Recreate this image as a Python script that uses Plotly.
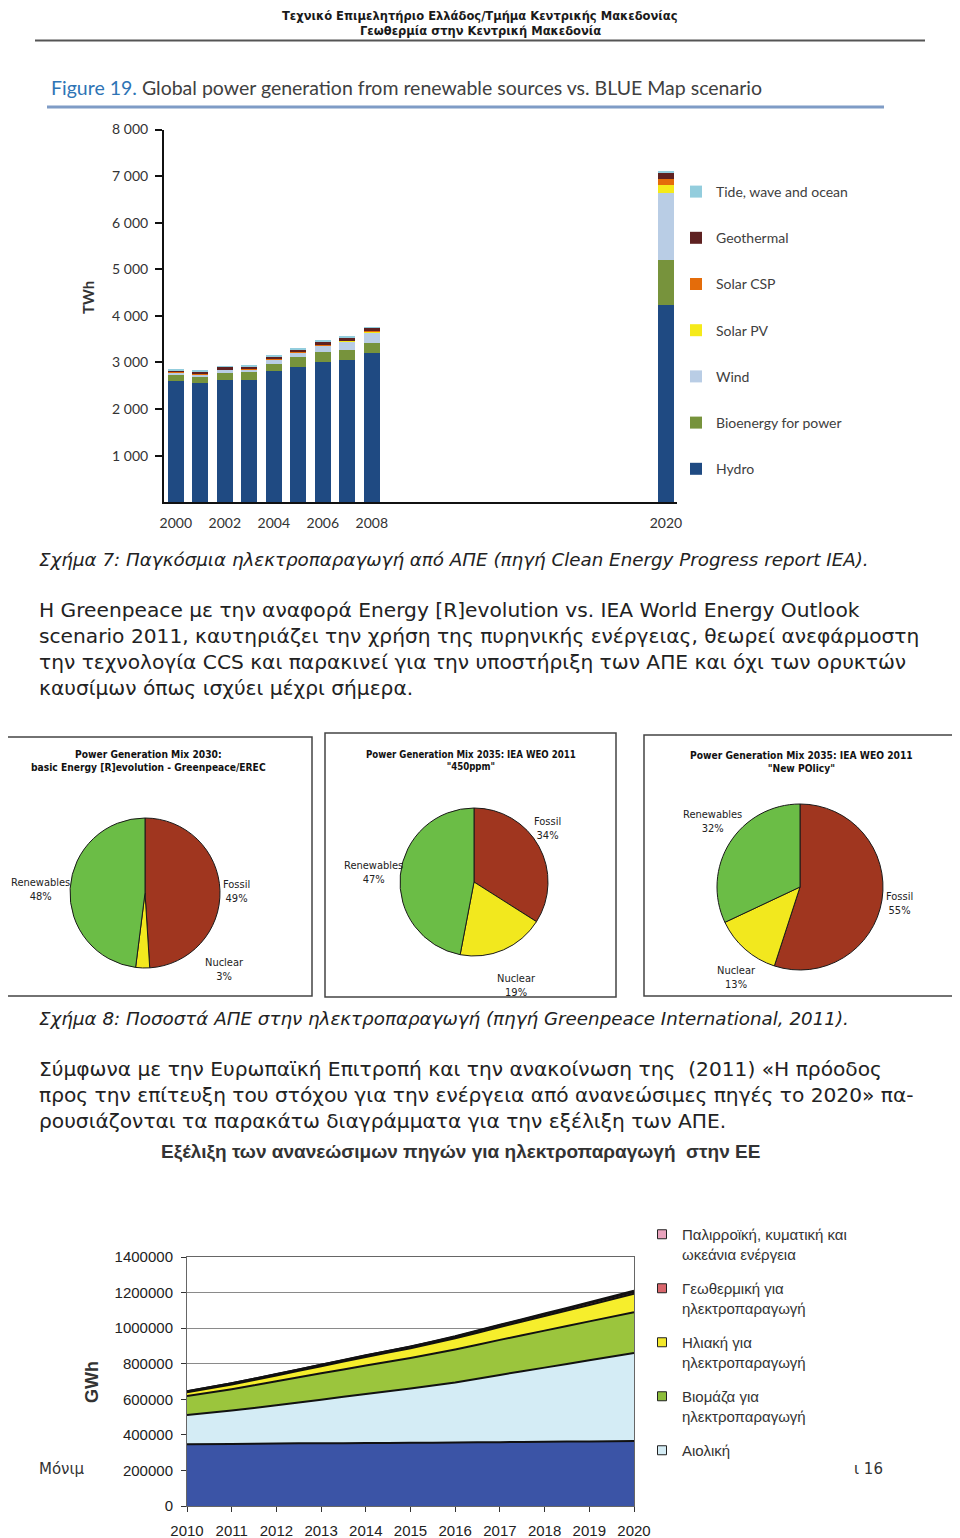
import plotly.graph_objects as go

# page is offset by the 8px body margin, so the figure is drawn 8px smaller
OFF = 8
W, H = 952, 1530
def X(p): return (p - OFF) / W
def Y(p): return 1 - (p - OFF) / H

# ---------------- Figure 19 data (TWh) ----------------
bar_years = [2000, 2001, 2002, 2003, 2004, 2005, 2006, 2007, 2008, 2020]
bar_tick_years = [2000, 2002, 2004, 2006, 2008, 2020]
bar_y_ticks = [1000, 2000, 3000, 4000, 5000, 6000, 7000, 8000]
bar_y_ticktext = ["1 000", "2 000", "3 000", "4 000", "5 000", "6 000", "7 000", "8 000"]
hydro = [2610, 2560, 2640, 2640, 2820, 2920, 3030, 3070, 3210, 4240]
bioenergy = [145, 150, 150, 155, 150, 200, 195, 215, 215, 970]
wind = [40, 40, 65, 70, 105, 100, 145, 180, 225, 1430]
solar_pv = [2, 3, 3, 4, 5, 6, 8, 10, 20, 180]
solar_csp = [1, 1, 1, 1, 1, 1, 1, 1, 10, 130]
geothermal = [50, 55, 55, 55, 60, 70, 75, 75, 70, 130]
tide = [20, 20, 20, 20, 20, 20, 20, 20, 15, 30]
bar_names = ["Hydro", "Bioenergy for power", "Wind", "Solar PV", "Solar CSP",
             "Geothermal", "Tide, wave and ocean"]
bar_colors = ["#1f4a82", "#77933c", "#b9cde5", "#f5ea1a", "#e46c0a", "#5e2121", "#93cddd"]

# ---------------- Pie data (%) ----------------
pie_labels = ["Fossil", "Nuclear", "Renewables"]
pie1_values = [49, 3, 48]
pie2_values = [34, 19, 47]
pie3_values = [55, 13, 32]
pie_colors = ["#a0361f", "#f2e81e", "#6bbd46"]

# ---------------- EU renewable electricity (GWh) ----------------
area_years = [2010, 2011, 2012, 2013, 2014, 2015, 2016, 2017, 2018, 2019, 2020]
area_y_ticks = [0, 200000, 400000, 600000, 800000, 1000000, 1200000, 1400000]
area_hydro = [347000, 349000, 352000, 353000, 354000, 355000, 357000, 359000, 361000, 363000, 365000]
area_wind = [164000, 188000, 214000, 245000, 276000, 305000, 338000, 378000, 417000, 457000, 495000]
area_bio = [108000, 120000, 135000, 148000, 160000, 172000, 185000, 197000, 208000, 218000, 230000]
area_solar = [20000, 26000, 33000, 40000, 48000, 55000, 63000, 72000, 82000, 92000, 103000]
area_geo = [6000, 7000, 7000, 8000, 8000, 9000, 9000, 10000, 10000, 11000, 11000]
area_tide = [500, 500, 600, 800, 1000, 1500, 2000, 3000, 4000, 5000, 6000]
area_names = ["Υδροηλεκτρική", "Αιολική", "Βιομάζα για<br>ηλεκτροπαραγωγή",
              "Ηλιακή για<br>ηλεκτροπαραγωγή", "Γεωθερμική για<br>ηλεκτροπαραγωγή",
              "Παλιρροϊκή, κυματική και<br>ωκεάνια ενέργεια"]
area_colors = ["#3b54a6", "#d4ecf5", "#9bc53d", "#f6ee2c", "#d9666c", "#e493b4"]
area_legend_colors = ["#3b54a6", "#d4ecf5", "#8cbd3a", "#f2e82a", "#d9666c", "#e9a3bd"]

NARROW = "Liberation Sans Narrow, Arial Narrow, DejaVu Sans Condensed, sans-serif"
DOC = "DejaVu Sans, sans-serif"
CAL = "Lato, Open Sans, sans-serif"
ARIAL = "Liberation Sans, Arial, sans-serif"

fig = go.Figure()

# Bars (legend shown top-down from Tide to Hydro)
bar_series = [hydro, bioenergy, wind, solar_pv, solar_csp, geothermal, tide]
nb = len(bar_series)
for i, (name, vals, col) in enumerate(zip(bar_names, bar_series, bar_colors)):
    fig.add_trace(go.Bar(x=bar_years, y=vals, name=name, marker=dict(color=col, line=dict(width=0)),
                         width=0.65, xaxis="x", yaxis="y", legend="legend", legendgroup=name,
                         legendrank=nb - i))

# Pies
pie_specs = [(pie1_values, 145, 893, 75), (pie2_values, 474, 882, 74), (pie3_values, 800, 887, 83)]
for vals, cx, cy, r in pie_specs:
    fig.add_trace(go.Pie(labels=pie_labels, values=vals, sort=False, direction="clockwise",
                         rotation=0, textinfo="none", hoverinfo="label+percent",
                         marker=dict(colors=pie_colors, line=dict(color="#1a1a1a", width=1)),
                         domain=dict(x=[X(cx - r), X(cx + r)], y=[Y(cy + r), Y(cy - r)]),
                         showlegend=False))

# Stacked areas
area_series = [area_hydro, area_wind, area_bio, area_solar, area_geo, area_tide]
na = len(area_series)
for i, (name, vals, col) in enumerate(zip(area_names, area_series, area_colors)):
    fig.add_trace(go.Scatter(x=area_years, y=vals, name=name, stackgroup="eu", mode="lines",
                             line=dict(color="#111111", width=2, shape="spline", smoothing=0.4),
                             fillcolor=col, xaxis="x2", yaxis="y2", showlegend=False))
# legend swatches for the area chart (square symbols, as in the original)
for i, (name, col) in enumerate(zip(area_names, area_legend_colors)):
    if i == 0:
        continue
    fig.add_trace(go.Scatter(x=[None], y=[None], name=name, mode="markers",
                             marker=dict(symbol="square", size=9, color=col, line=dict(color="#222", width=1)),
                             xaxis="x2", yaxis="y2", legend="legend2", legendgroup="a%d" % i,
                             legendrank=na - i, hoverinfo="skip"))

ann = []
def text(x, y, s, size, family=DOC, color="#222", xanchor="left", bold=False, italic=False, angle=0):
    if bold:
        s = "<b>" + s + "</b>"
    if italic:
        s = "<i>" + s + "</i>"
    ann.append(dict(x=X(x), y=Y(y), xref="paper", yref="paper", text=s, showarrow=False,
                    xanchor=xanchor, yanchor="middle", textangle=angle,
                    font=dict(family=family, size=size, color=color)))

HDR = "DejaVu Sans Condensed, DejaVu Sans, sans-serif"
text(480, 16, "Τεχνικό Επιμελητήριο Ελλάδος/Τμήμα Κεντρικής Μακεδονίας", 12.8, HDR, "#1a1a1a", "center", bold=True)
text(480, 31, "Γεωθερμία στην Κεντρική Μακεδονία", 12.8, HDR, "#1a1a1a", "center", bold=True)

text(49, 87, "<span style='color:#2e74b5'>Figure 19.</span> Global power generation from renewable sources vs. BLUE Map scenario",
     19.5, CAL, "#404040")
text(88, 298, "TWh", 15, CAL, "#333", "center", bold=True, angle=-90)

text(37, 559, "Σχήμα 7: Παγκόσμια ηλεκτροπαραγωγή από ΑΠΕ (πηγή Clean Energy Progress report IEA).",
     18.3, DOC, "#222", italic=True)
para1 = ["Η Greenpeace με την αναφορά Energy [R]evolution vs. IEA World Energy Outlook",
         "scenario 2011, καυτηριάζει την χρήση της πυρηνικής ενέργειας, θεωρεί ανεφάρμοστη",
         "την τεχνολογία CCS και παρακινεί για την υποστήριξη των ΑΠΕ και όχι των ορυκτών",
         "καυσίμων όπως ισχύει μέχρι σήμερα."]
for k, line in enumerate(para1):
    text(37, 610 + 26 * k, line, 20.2, DOC, "#222")

# Pie titles / labels
text(148, 761, "Power Generation Mix 2030:<br>basic Energy [R]evolution - Greenpeace/EREC", 10.2, NARROW, "#111", "center", bold=True)
text(471, 760, "Power Generation Mix 2035: IEA WEO 2011<br>\"450ppm\"", 9.6, NARROW, "#111", "center", bold=True)
text(801, 762, "Power Generation Mix 2035: IEA WEO 2011<br>\"New POlicy\"", 10.2, NARROW, "#111", "center", bold=True)

def pie_label(x, y, idx, vals):
    text(x, y, "%s<br>%d%%" % (pie_labels[idx], vals[idx]), 11, NARROW, "#222", "center")

pie_label(40, 890, 2, pie1_values)
pie_label(236, 892, 0, pie1_values)
pie_label(224, 969, 1, pie1_values)
pie_label(547, 828, 0, pie2_values)
pie_label(373, 872, 2, pie2_values)
pie_label(516, 986, 1, pie2_values)
pie_label(712, 821, 2, pie3_values)
pie_label(899, 903, 0, pie3_values)
pie_label(736, 977, 1, pie3_values)

text(37, 1018, "Σχήμα 8: Ποσοστά ΑΠΕ στην ηλεκτροπαραγωγή (πηγή Greenpeace International, 2011).",
     18.3, DOC, "#222", italic=True)
para2 = ["Σύμφωνα με την Ευρωπαϊκή Επιτροπή και την ανακοίνωση της  (2011) «Η πρόοδος",
         "προς την επίτευξη του στόχου για την ενέργεια από ανανεώσιμες πηγές το 2020» πα-",
         "ρουσιάζονται τα παρακάτω διαγράμματα για την εξέλιξη των ΑΠΕ."]
for k, line in enumerate(para2):
    text(37, 1069 + 26 * k, line, 20.2, DOC, "#222")

text(460, 1152, "Εξέλιξη των ανανεώσιμων πηγών για ηλεκτροπαραγωγή  στην ΕΕ", 19, ARIAL, "#333", "center", bold=True)
text(92, 1382, "GWh", 18, ARIAL, "#333", "center", bold=True, angle=-90)
text(37, 1469, "Μόνιμ", 15, DOC, "#333")
text(885, 1469, "ι 16", 15, DOC, "#333", "right")

shapes = [
    dict(type="line", xref="paper", yref="paper", x0=X(35), x1=X(925), y0=Y(40.5), y1=Y(40.5),
         line=dict(color="#555", width=2)),
    dict(type="line", xref="paper", yref="paper", x0=X(47), x1=X(884), y0=Y(107), y1=Y(107),
         line=dict(color="#7f9cc6", width=3)),
]
for (x0, y0, x1, y1) in [(4, 737, 312, 996), (325, 733, 616, 997), (644, 735, 957, 996)]:
    shapes.append(dict(type="rect", xref="paper", yref="paper", x0=X(x0), x1=X(x1), y0=Y(y1), y1=Y(y0),
                       line=dict(color="#444", width=1.5), fillcolor="rgba(0,0,0,0)", layer="below"))

fig.update_layout(
    width=W, height=H, margin=dict(l=0, r=0, t=0, b=0, pad=0, autoexpand=False),
    paper_bgcolor="white", plot_bgcolor="white",
    barmode="stack", bargap=0,
    annotations=ann, shapes=shapes,
    xaxis=dict(domain=[X(164), X(677)], range=[1999.52, 2020.45], tickvals=bar_tick_years,
               ticks="", showline=True, linecolor="#111", linewidth=2, showgrid=False, zeroline=False,
               ticklabelstandoff=7, automargin=False,
               tickfont=dict(family=CAL, size=14, color="#333"), anchor="y"),
    yaxis=dict(domain=[Y(502.2), Y(129.5)], range=[0, 8000], tickvals=bar_y_ticks, ticktext=bar_y_ticktext,
               ticks="outside", ticklen=7, tickwidth=1.5, tickcolor="#111", showline=True, linecolor="#111",
               linewidth=2, showgrid=False, zeroline=False, ticklabelstandoff=4, automargin=False,
               tickfont=dict(family=CAL, size=14, color="#333"), anchor="x"),
    xaxis2=dict(domain=[X(187), X(634)], range=[2010, 2020], tick0=2010, dtick=1,
                ticks="outside", ticklen=5, tickcolor="#333", showline=True, linecolor="#666", mirror=True,
                showgrid=False, zeroline=False, automargin=False, ticklabelstandoff=6,
                tickfont=dict(family=ARIAL, size=15, color="#222"), anchor="y2"),
    yaxis2=dict(domain=[Y(1506), Y(1257)], range=[0, 1400000], tickvals=area_y_ticks, tickformat="d",
                ticks="outside", ticklen=5, tickcolor="#333", showline=True, linecolor="#666", mirror=True,
                showgrid=True, gridcolor="#8a8a8a", gridwidth=1, zeroline=False, ticklabelstandoff=5,
                automargin=False, tickfont=dict(family=ARIAL, size=15, color="#222"), anchor="x2"),
    legend=dict(x=X(676), y=Y(176), xanchor="left", yanchor="top", bgcolor="rgba(0,0,0,0)",
                font=dict(family=CAL, size=14, color="#404040"), traceorder="grouped",
                tracegroupgap=25),
    legend2=dict(x=X(642), y=Y(1218), xanchor="left", yanchor="top", bgcolor="rgba(0,0,0,0)",
                 font=dict(family=ARIAL, size=15, color="#333"), traceorder="grouped",
                 tracegroupgap=12, valign="top"),
)

fig.write_html("out.html")
